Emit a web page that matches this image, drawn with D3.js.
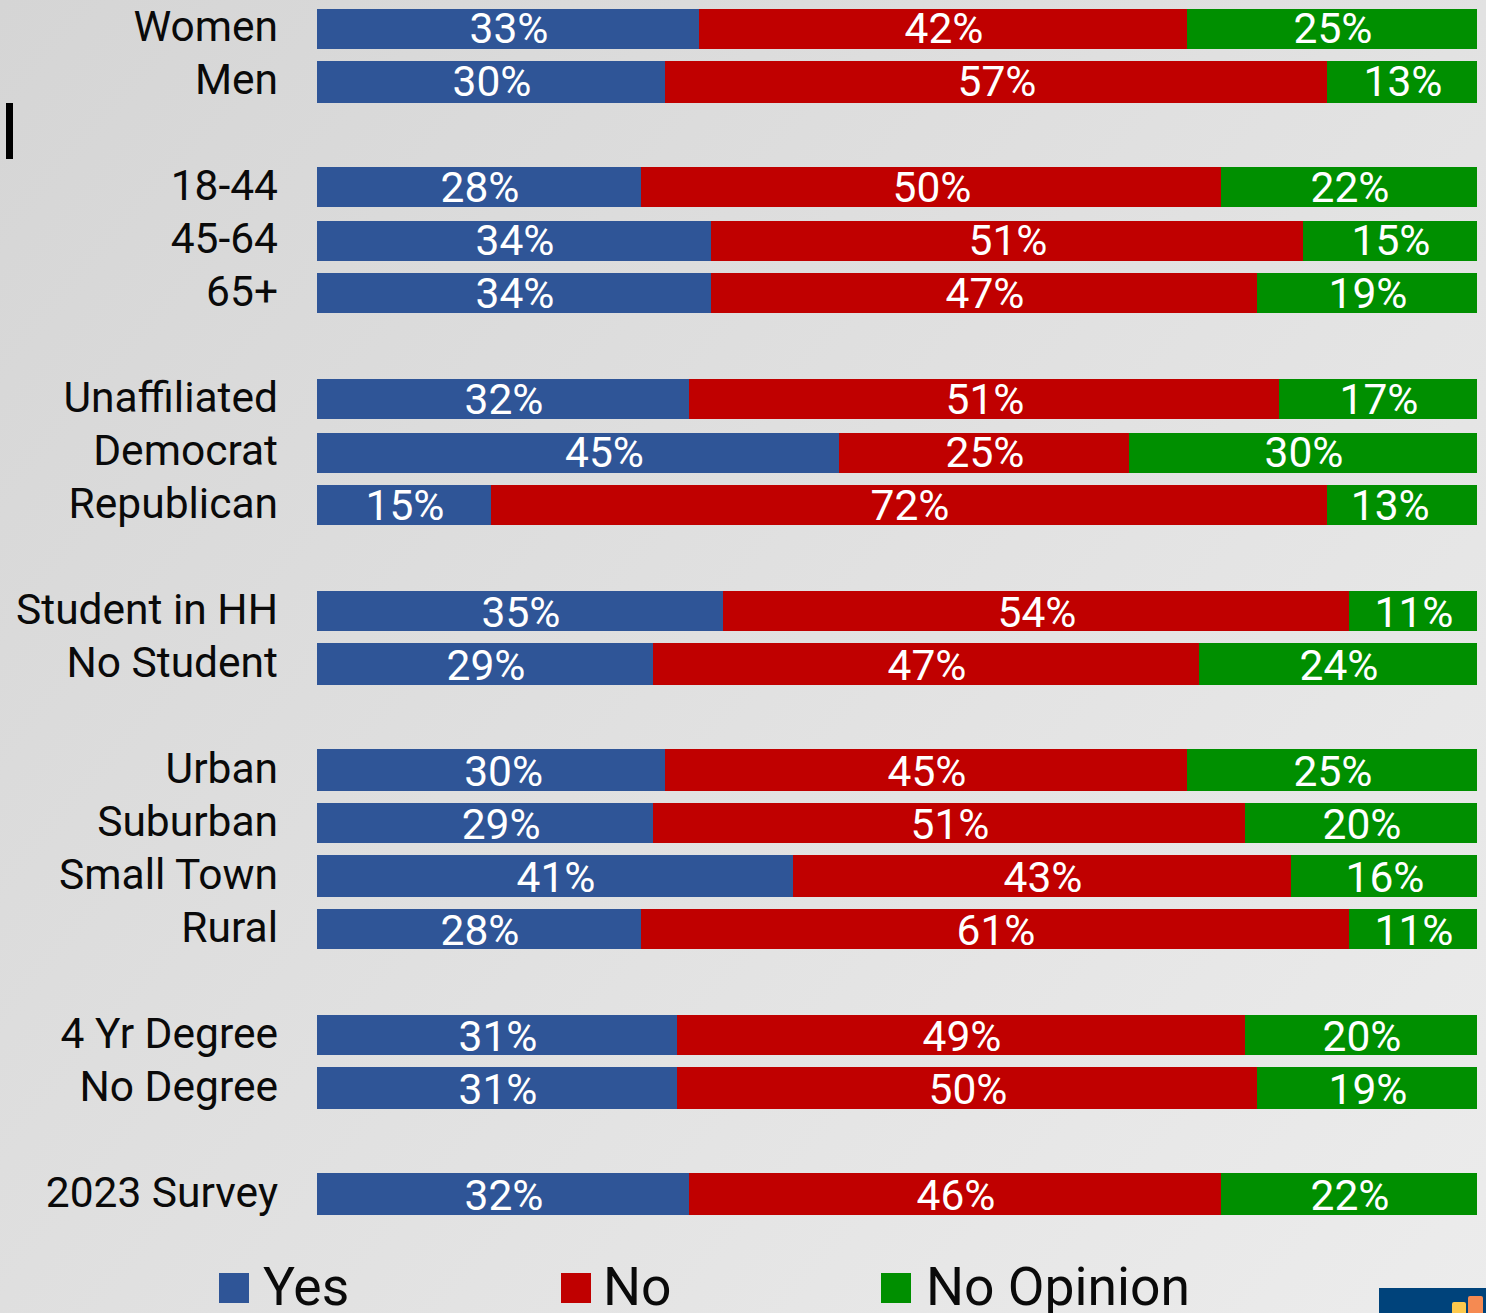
<!DOCTYPE html>
<html><head><meta charset="utf-8">
<script src="https://cdn.jsdelivr.net/npm/d3@7/dist/d3.min.js"></script>
<style>html,body{margin:0;padding:0;overflow:hidden}svg{display:block}text{font-family:Roboto,sans-serif}</style>
</head><body><svg id="c" width="1486" height="1313"></svg>
<script>
const categories=["Women","Men","18-44","45-64","65+","Unaffiliated","Democrat","Republican","Student in HH","No Student","Urban","Suburban","Small Town","Rural","4 Yr Degree","No Degree","2023 Survey"];
const rowSlots=[0,1,3,4,5,7,8,9,11,12,14,15,16,17,19,20,22];
const yes=[33,30,28,34,34,32,45,15,35,29,30,29,41,28,31,31,32];
const no=[42,57,50,51,47,51,25,72,54,47,45,51,43,61,49,50,46];
const noOpinion=[25,13,22,15,19,17,30,13,11,24,25,20,16,11,20,19,22];
const seriesNames=["Yes","No","No Opinion"];
const seriesValues=[yes,no,noOpinion];
const seriesColors=["#2f5597","#c00000","#008f00"];
// label nudges, in percentage points, where the source label sits off its segment's centre
const yesLabelShift={Democrat:2.2,Urban:1,Suburban:1.3};
const noOpinionLabelShift={Republican:-1.1};

const svg=d3.select("#c");
const defs=svg.append("defs");
const g=defs.append("linearGradient").attr("id","bg").attr("gradientUnits","userSpaceOnUse")
 .attr("x1",0).attr("y1",0).attr("x2",1486).attr("y2",1313);
g.append("stop").attr("offset",0).attr("stop-color","#d5d5d5");
g.append("stop").attr("offset",1).attr("stop-color","#ececec");
svg.append("rect").attr("width",1486).attr("height",1313).attr("fill","url(#bg)");

const snap=v=>2*Math.round((v-1)/2)+1;
const x=d3.scaleLinear().domain([0,100]).range([317,1477]);
const rowTop=d3.scaleLinear().domain([0,22]).range([9,1172.8]);
const rowBottom=d3.scaleLinear().domain([0,22]).range([49.1,1214]);
const catBaseline=d3.scaleLinear().domain([0,22]).range([41,1207.2]);
const valBaseline=d3.scaleLinear().domain([0,22]).range([43,1210]);

const rows=categories.map((c,i)=>({c,slot:rowSlots[i],vals:seriesValues.map(s=>s[i])}));
const row=svg.selectAll("g.row").data(rows).join("g").attr("class","row");

row.append("text").attr("x",278).attr("y",d=>catBaseline(d.slot))
 .attr("text-anchor","end").attr("font-size",42.5).attr("fill","#0a0a0a").text(d=>d.c);

row.each(function(d){
  const r=d3.select(this);let cum=0;
  d.vals.forEach((v,k)=>{
    const x0=snap(x(cum)),x1=k===2?x(100):snap(x(cum+v));
    const top=snap(rowTop(d.slot)),bot=snap(rowBottom(d.slot));
    r.append("rect").attr("x",x0).attr("y",top).attr("width",x1-x0).attr("height",bot-top)
     .attr("fill",seriesColors[k]).attr("shape-rendering","crispEdges");
    let shift=0;
    if(k===0)shift=yesLabelShift[d.c]||0;
    if(k===2)shift=noOpinionLabelShift[d.c]||0;
    const cx=(x0+x1)/2+1+(x(shift)-x(0));
    r.append("text").attr("x",cx).attr("y",valBaseline(d.slot)).attr("text-anchor","middle")
     .attr("font-size",42.5).attr("fill","#fff").text(v+"%");
    cum+=v;
  });
});

// stray tick at the left edge
svg.append("rect").attr("x",6).attr("y",103).attr("width",7).attr("height",56).attr("fill","#000");

// legend
const legendX=d3.scaleOrdinal().domain(seriesNames).range([219,561,881]);
const leg=svg.selectAll("g.leg").data(seriesNames).join("g").attr("class","leg");
leg.append("rect").attr("x",d=>legendX(d)).attr("y",1273).attr("width",30).attr("height",30)
 .attr("fill",(d,i)=>seriesColors[i]);
leg.append("text").attr("x",(d,i)=>legendX(d)+[44,42,45][i]).attr("y",1305)
 .attr("font-size",53.4).attr("fill","#0a0a0a").text(d=>d);

// logo fragment in the corner
svg.append("rect").attr("x",1379).attr("y",1288).attr("width",107).attr("height",25).attr("fill","#00437b");
svg.append("rect").attr("x",1452).attr("y",1302).attr("width",14).attr("height",14).attr("rx",2).attr("fill","#fdc94d");
svg.append("rect").attr("x",1468).attr("y",1296).attr("width",15).attr("height",20).attr("rx",2).attr("fill","#f58a52");
</script></body></html>
